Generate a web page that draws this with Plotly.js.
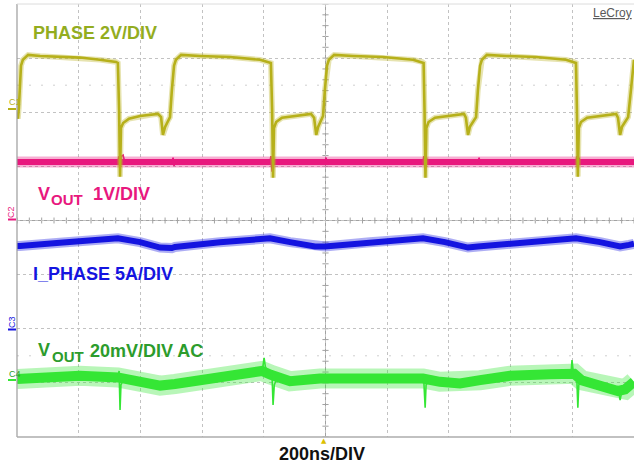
<!DOCTYPE html>
<html>
<head>
<meta charset="utf-8">
<script src="https://cdn.plot.ly/plotly-3.0.1.min.js"></script>
<style>
  html, body { margin: 0; padding: 0; background: #ffffff; }
  #scope { width: 634px; height: 466px; }
</style>
</head>
<body>
<div id="scope"></div>
<script>
// Time base: 200 ns/div, 10 divisions across the screen.
// Trace levels are in screen divisions (0 = bottom graticule line, 8 = top).

// C1: switching node (PHASE)
const phaseTimeNs = [0, 3, 6, 10, 13, 19, 36, 75, 139, 204, 269, 321, 327,
  331, 334, 337, 344, 363, 399, 431, 457, 467, 473, 480, 489, 496, 502, 509, 515, 532, 593, 690, 788, 817, 823,
  827, 830, 833, 840, 859, 895, 927, 953, 963, 970, 976, 985, 992, 998, 1005, 1011, 1028, 1089, 1186, 1284, 1313, 1318,
  1321, 1324, 1327, 1334, 1355, 1391, 1423, 1449, 1455, 1462, 1468, 1478, 1488, 1494, 1501, 1507, 1523, 1585, 1682, 1780, 1805, 1812,
  1815, 1818, 1821, 1828, 1848, 1883, 1916, 1942, 1948, 1955, 1961, 1971, 1981, 1990, 1997, 2000];
const phaseLevel = [5.99, 5.88, 6.08, 6.60, 6.86, 6.97, 7.06, 7.04, 7.02, 7.01, 6.97, 6.93, 6.91,
  6.04, 4.81, 5.71, 5.80, 5.88, 5.93, 5.95, 5.97, 5.91, 5.58, 5.73, 5.84, 5.91, 6.41, 6.86, 6.97, 7.06, 7.04, 7.02, 6.97, 6.93, 6.91,
  6.04, 4.79, 5.71, 5.82, 5.90, 5.93, 5.95, 5.97, 5.90, 5.58, 5.73, 5.84, 5.93, 6.41, 6.86, 6.97, 7.06, 7.04, 7.02, 6.97, 6.93, 6.91,
  6.04, 4.79, 5.71, 5.82, 5.90, 5.93, 5.95, 5.97, 5.90, 5.58, 5.73, 5.82, 5.91, 6.41, 6.86, 6.97, 7.06, 7.04, 7.02, 6.97, 6.93, 6.91,
  6.04, 4.81, 5.71, 5.82, 5.90, 5.93, 5.95, 5.97, 5.90, 5.58, 5.73, 5.82, 5.91, 6.41, 6.86, 6.97];

// C2: output voltage, 1 V/div (mean level, then switching spikes)
const voutTimeNs = [0, 500, 1000, 1500, 2000];
const voutLevel = [5.08, 5.08, 5.08, 5.08, 5.08];
const voutSpikeTimeNs = [327, 331, 334, 337, 344, 350, null, 502, 506, 509, 512, null,
  820, 823, 827, 830, 836, null, 998, 1002, 1005, 1008, null,
  1316, 1319, 1323, 1326, 1332, null, 1494, 1498, 1501, 1504, null,
  1812, 1815, 1818, 1821, 1828];
const voutSpikeLevel = [5.08, 5.19, 4.94, 5.18, 5.21, 5.06, null, 5.08, 5.16, 5.01, 5.08, null,
  5.08, 5.19, 4.90, 5.16, 5.06, null, 5.08, 5.16, 5.03, 5.08, null,
  5.08, 5.19, 4.94, 5.18, 5.06, null, 5.08, 5.16, 5.03, 5.08, null,
  5.08, 5.19, 4.90, 5.16, 5.06];

// C3: phase (inductor) current, 5 A/div
const iphaseTimeNs = [0, 10, 139, 269, 327, 399, 464, 502, 512, 658, 820, 885, 966, 998,
  1144, 1316, 1387, 1462, 1494, 1663, 1812, 1890, 1955, 1984, 2000];
const iphaseLevel = [3.53, 3.53, 3.59, 3.64, 3.67, 3.60, 3.50, 3.49, 3.51, 3.60, 3.67, 3.60, 3.52, 3.52,
  3.60, 3.67, 3.60, 3.50, 3.52, 3.60, 3.67, 3.60, 3.52, 3.55, 3.57];

// C4: output ripple, 20 mV/div AC coupled (mean wander, then switching spikes)
const rippleTimeNs = [0, 75, 204, 327, 399, 464, 512, 593, 690, 794, 823, 885, 982, 1112, 1241, 1316,
  1371, 1436, 1501, 1598, 1728, 1806, 1830, 1890, 1948, 1971, 2000];
const rippleLevel = [1.07, 1.10, 1.13, 1.10, 1.00, 0.95, 0.98, 1.05, 1.12, 1.22, 1.15, 1.03, 1.08, 1.09, 1.12, 1.08,
  1.02, 0.99, 1.05, 1.13, 1.16, 1.17, 1.05, 0.94, 0.85, 0.88, 1.02];
const rippleSpikeTimeNs = [327, 331, 334, 337, 344, null, 790, 797, 801, 805, 812, null,
  823, 827, 830, 834, 840, null, 1316, 1319, 1323, 1326, 1332, null,
  1793, 1797, 1799, 1803, 1808, null, 1812, 1815, 1818, 1821, 1828, null,
  1945, 1951, 1955, 1959, 1965];
const rippleSpikeLevel = [1.10, 1.22, 0.50, 0.96, 1.05, null, 1.22, 1.30, 1.46, 1.30, 1.20, null,
  1.15, 1.10, 0.59, 0.96, 1.05, null, 1.08, 1.00, 0.54, 0.96, 1.02, null,
  1.17, 1.25, 1.42, 1.22, 1.12, null, 1.10, 1.02, 0.54, 0.96, 1.02, null,
  0.85, 0.80, 0.68, 0.80, 0.86];

// Screen labels
const channelLabels = ['PHASE 2V/DIV', 'V', 'OUT', '1V/DIV', 'I_PHASE 5A/DIV', 'V', 'OUT', '20mV/DIV AC'];
const timebaseLabel = '200ns/DIV';
const brandLabel = 'LeCroy';
const channelTags = ['C1', 'C2', 'C3', 'C4'];

const COL = {
  c1: '#b6b01a', c1Text: '#93ad1f',
  c2: '#e8187e',
  c3: '#1414e0',
  c4: '#35e635', c4Text: '#2c9c2c',
  grid: '#c2c2c2', axis: '#a2a2a2'
};
const FONT = 'Liberation Sans, Arial, sans-serif';

// plot area in pixels: x 17..634, y 4..437
const L = 17, R = 634, T = 4, B = 437;
const px = x => (x - L) / (R - L);
const py = y => (B - y) / (B - T);

// a noisy channel: soft outer haze + dense core
function band(x, y, color, core, haze) {
  return [
    { x: x, y: y, mode: 'lines', line: { color: color, width: core + haze }, opacity: 0.35, hoverinfo: 'skip' },
    { x: x, y: y, mode: 'lines', line: { color: color, width: core }, hoverinfo: 'skip' }
  ];
}
// thin switching spikes on top of a band
function spikes(x, y, color) {
  return { x: x, y: y, mode: 'lines', connectgaps: false, line: { color: color, width: 1.6 }, hoverinfo: 'skip' };
}

const traces = [].concat(
  band(voutTimeNs, voutLevel, COL.c2, 6, 5),
  [spikes(voutSpikeTimeNs, voutSpikeLevel, COL.c2)],
  band(iphaseTimeNs, iphaseLevel, COL.c3, 6, 4),
  band(rippleTimeNs, rippleLevel, COL.c4, 10, 10),
  [spikes(rippleSpikeTimeNs, rippleSpikeLevel, COL.c4)],
  band(phaseTimeNs, phaseLevel, COL.c1, 2.6, 3)
);

const shapes = [];
// solid centre cross with minor ticks
shapes.push({ type: 'line', xref: 'x', yref: 'y', x0: 1000, x1: 1000, y0: 0, y1: 8, line: { color: COL.axis, width: 1 }, layer: 'below' });
shapes.push({ type: 'line', xref: 'x', yref: 'y', x0: 0, x1: 2000, y0: 4, y1: 4, line: { color: COL.axis, width: 1 }, layer: 'below' });
for (let i = 0; i <= 50; i++) {
  const t = i * 40;
  shapes.push({ type: 'line', xref: 'x', yref: 'y', x0: t, x1: t, y0: 3.945, y1: 4.055, line: { color: COL.axis, width: 1 }, layer: 'below' });
}
for (let j = 0; j <= 40; j++) {
  const v = j * 0.2;
  shapes.push({ type: 'line', xref: 'x', yref: 'y', x0: 990, x1: 1010, y0: v, y1: v, line: { color: COL.axis, width: 1 }, layer: 'below' });
}
// faint half-division dotted rows
[1.5, 6.5].forEach(v => shapes.push({ type: 'line', xref: 'x', yref: 'y', x0: 0, x1: 2000, y0: v, y1: v,
  line: { color: '#cfcfcf', width: 1, dash: '2px,10px' }, layer: 'below' }));
// screen frame
shapes.push({ type: 'line', xref: 'paper', yref: 'paper', x0: 0, x1: 0, y0: 0, y1: 1, line: { color: '#9c9c9c', width: 1.2 } });
shapes.push({ type: 'line', xref: 'paper', yref: 'paper', x0: 0, x1: 1, y0: 0, y1: 0, line: { color: '#adadad', width: 1.5 } });
shapes.push({ type: 'line', xref: 'paper', yref: 'paper', x0: 0, x1: 1, y0: 1, y1: 1, line: { color: '#dcdcdc', width: 1 } });
// channel ground markers on the left edge
const markerRows = [{ y: 109, c: COL.c1 }, { y: 219.5, c: COL.c2 }, { y: 329.5, c: COL.c3 }, { y: 380, c: COL.c4 }];
markerRows.forEach(m => shapes.push({ type: 'line', xref: 'paper', yref: 'paper',
  x0: px(8), x1: px(16), y0: py(m.y), y1: py(m.y), line: { color: m.c, width: 2 } }));

function label(text, x, y, size, color, extra) {
  return Object.assign({
    xref: 'paper', yref: 'paper', x: px(x), y: py(y), text: text, showarrow: false,
    xanchor: 'left', yanchor: 'middle', borderpad: 0,
    font: { family: FONT, size: size, color: color, weight: 'bold' }
  }, extra || {});
}

const annotations = [
  label(channelLabels[0], 32, 33.5, 18, COL.c1Text),
  label(channelLabels[1], 37, 194, 18, COL.c2),
  label(channelLabels[2], 50, 199.5, 15, COL.c2),
  label(channelLabels[3], 92, 193.5, 18, COL.c2),
  label(channelLabels[4], 32, 273.5, 18, COL.c3),
  label(channelLabels[5], 37, 350, 18, COL.c4Text),
  label(channelLabels[6], 51, 356, 15, COL.c4Text),
  label(channelLabels[7], 89, 351, 18, COL.c4Text),
  label(timebaseLabel, 322, 454, 18, '#111111', { xanchor: 'center' }),
  label(brandLabel, 592, 13, 12, '#5a5a5a', { font: { family: FONT, size: 12, color: '#5a5a5a', lineposition: 'under' } }),
  label(channelTags[0], 8, 102, 9, COL.c1, { font: { family: FONT, size: 9, color: COL.c1 } }),
  label(channelTags[1], 11, 212, 9, COL.c2, { textangle: -90, xanchor: 'center', font: { family: FONT, size: 9, color: COL.c2 } }),
  label(channelTags[2], 12, 322, 9, COL.c3, { textangle: -90, xanchor: 'center', font: { family: FONT, size: 9, color: COL.c3 } }),
  label(channelTags[3], 8, 374, 9, COL.c4Text, { font: { family: FONT, size: 9, color: COL.c4Text } }),
  // trigger position marker
  label('\u25B2', 324, 441, 7, '#dcc000', { xanchor: 'center', font: { family: 'DejaVu Sans', size: 7, color: '#dcc000' } })
];

const layout = {
  width: 634, height: 466,
  margin: { l: L, r: 0, t: T, b: 466 - B, pad: 0 },
  paper_bgcolor: '#ffffff', plot_bgcolor: '#ffffff',
  showlegend: false,
  xaxis: { range: [0, 2000], tick0: 0, dtick: 200, showticklabels: false, ticks: '',
    showgrid: true, gridcolor: COL.grid, griddash: 'dot', gridwidth: 1, zeroline: false, showline: false, fixedrange: true },
  yaxis: { range: [0, 8], tick0: 0, dtick: 1, showticklabels: false, ticks: '',
    showgrid: true, gridcolor: COL.grid, griddash: 'dot', gridwidth: 1, zeroline: false, showline: false, fixedrange: true },
  shapes: shapes,
  annotations: annotations
};

Plotly.newPlot('scope', traces, layout, { staticPlot: true, displayModeBar: false });
</script>
</body>
</html>
